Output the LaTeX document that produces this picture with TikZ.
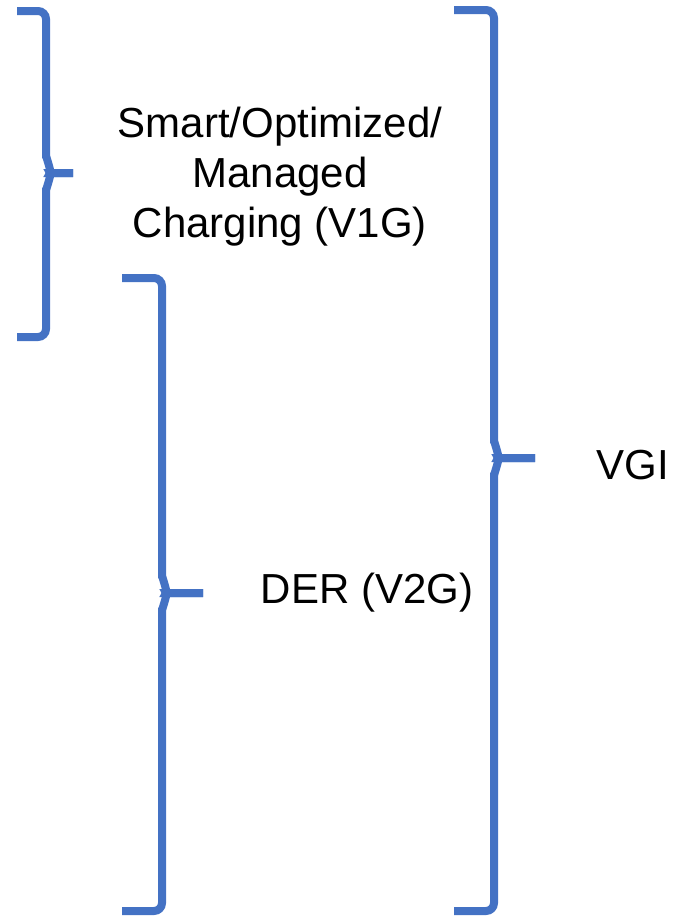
\documentclass[tikz,border=0pt]{standalone}
\usepackage{fontspec}
\setmainfont{Liberation Sans}
\usepackage{xcolor}

\begin{document}
\begin{tikzpicture}[
    x=1pt, y=-1pt,
    bracket/.style={draw=c_blue, line width=8pt, line cap=butt, rounded corners=8pt},
    label/.style={font=\fontsize{42}{50}\selectfont, align=center, inner sep=0pt}
]

    % Color de las llaves
    \definecolor{c_blue}{RGB}{68, 114, 196}

    \useasboundingbox (0,0) rectangle (683,916);

    % Llave izquierda (V1G)
    \draw[bracket] (17,11) -- (46,11) -- (46,163) to[out=90,in=180] (58,173) -- (73,173);
    \draw[bracket] (17,337) -- (46,337) -- (46,183) to[out=-90,in=180] (58,173) -- (73,173);

    % Llave central (V2G)
    \draw[bracket] (122,278) -- (162,278) -- (162,583) to[out=90,in=180] (174,593) -- (203,593);
    \draw[bracket] (122,911) -- (162,911) -- (162,603) to[out=-90,in=180] (174,593) -- (203,593);

    % Llave derecha (VGI)
    \draw[bracket] (454,10) -- (494,10) -- (494,448) to[out=90,in=180] (506,458) -- (535,458);
    \draw[bracket] (454,911) -- (494,911) -- (494,468) to[out=-90,in=180] (506,458) -- (535,458);

    % Textos
    \node[label] (v1g) at (280,177) {Smart/Optimized/\\Managed\\Charging (V1G)};
    \node[label, anchor=base] (v2g) at (367,603) {DER (V2G)};
    \node[label, anchor=base] (vgi) at (633,479) {VGI};

\end{tikzpicture}
\end{document}
